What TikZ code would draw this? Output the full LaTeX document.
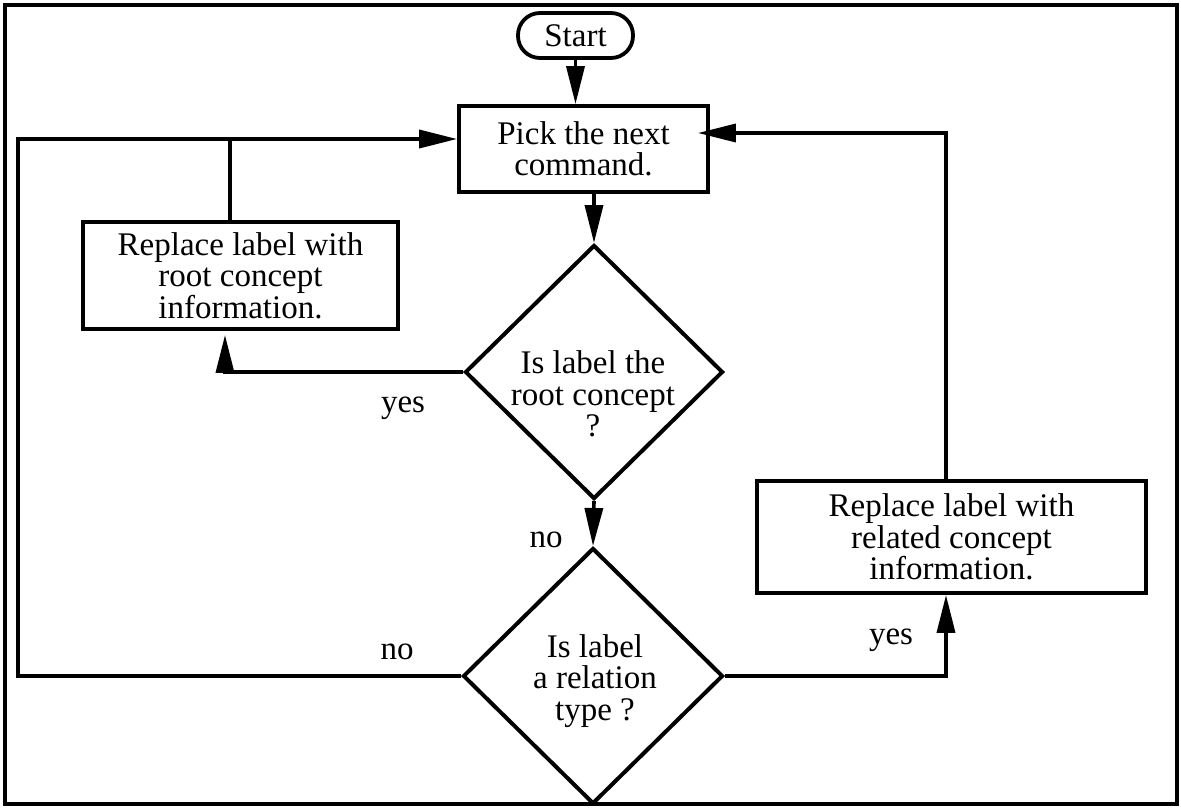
\documentclass[tikz,border=0pt]{standalone}
\usepackage{fontspec}
\setmainfont{Liberation Serif}
\usetikzlibrary{shapes.geometric,arrows.meta}
\begin{document}
\begin{tikzpicture}[x=1pt,y=-1pt,
  every node/.style={font=\fontsize{33}{31.5}\selectfont},
  box/.style={draw,line width=3.8pt,inner sep=0pt,align=center},
  decision/.style={draw,diamond,line width=4pt,inner sep=0pt},
  txt/.style={inner sep=0pt,align=center},
  flow/.style={line width=3.6pt,-{Triangle[length=38pt,width=18pt]}},
  link/.style={line width=3.6pt}]
\useasboundingbox (0,0) rectangle (1181,807);
% outer frame
\draw[line width=4.5pt] (5,5) rectangle (1177,804);

% process boxes
\node[box,rounded corners=22pt,minimum width=115pt,minimum height=45pt] (start) at (575.5,35.5) {Start};
\node[box,minimum width=249pt,minimum height=86pt] (pick) at (583.5,149) {Pick the next\\command.};
\node[box,minimum width=315pt,minimum height=107pt] (root) at (240.5,275.5) {Replace label with\\root concept\\information.};
\node[box,minimum width=389pt,minimum height=112pt] (related) at (951.5,537) {Replace label with\\related concept\\information.};

% decisions
\node[decision,minimum width=258pt,minimum height=254pt] (d1) at (594,372) {};
\node[txt] (q1) at (593,394) {Is label the\\root concept\\?};
\node[decision,minimum width=260pt,minimum height=256pt] (d2) at (593,676) {};
\node[txt] (q2) at (595,681) {Is label\\a relation\\type ?};

% branch labels
\node[txt] (yes1) at (403,408) {yes};
\node[txt] (no1) at (546,540) {no};
\node[txt] (no2) at (397,652) {no};
\node[txt] (yes2) at (891,640) {yes};

% loop-back corner
\coordinate (lt) at (18,139);

% connectors
\draw[flow] (start.south) -- (start.south |- pick.north);
\draw[flow] (d1.north |- pick.south) -- (d1.north);
\draw[flow] (d1.south) -- (d2.north);
\draw[flow] (d1.west) -| ([xshift=-15.5pt,yshift=-4pt]root.south);
\draw[link] ([xshift=-10.5pt]root.north) -- ([xshift=-10.5pt]root.north |- lt);
\draw[flow] (d2.west) -| (lt) -- (lt -| pick.west);
\draw[flow] (d2.east) -| ([xshift=-5.5pt]related.south);
\draw[flow,shorten >=-12pt] ([xshift=-5.5pt]related.north) |- ([yshift=16pt]pick.east);
\end{tikzpicture}
\end{document}
